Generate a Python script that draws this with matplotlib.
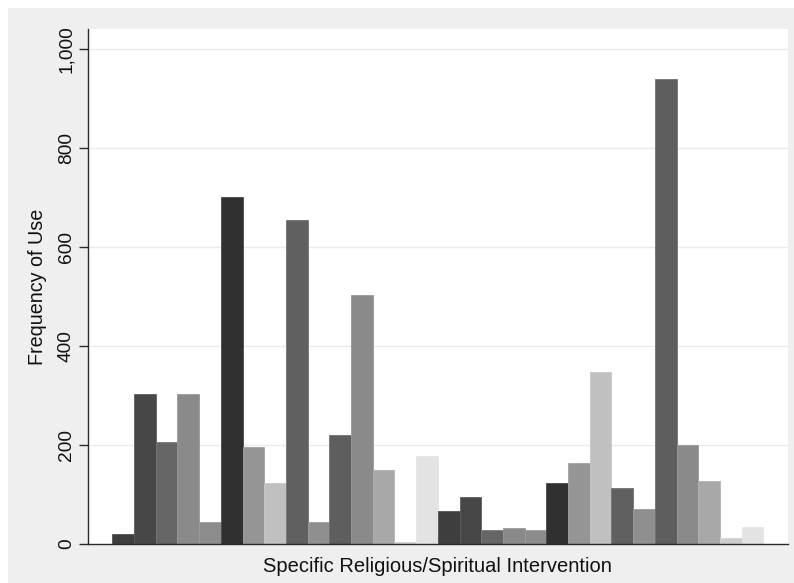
import matplotlib
matplotlib.use("Agg")
import matplotlib.pyplot as plt
from matplotlib.patches import Rectangle
from matplotlib.ticker import FuncFormatter
import matplotlib.colors as mcolors

plt.rcParams['font.family'] = ['Liberation Sans', 'DejaVu Sans']

# Data
values = [20, 303, 205, 303, 44, 700, 195, 123, 654, 44, 220, 502, 150, 5, 178,
          66, 94, 29, 32, 28, 123, 164, 348, 114, 70, 939, 200, 128, 13, 35]
bar_colors = ['#3e3e3e', '#474747', '#666666', '#8a8a8a', '#8c8c8c', '#303030',
              '#959595', '#c0c0c0', '#606060', '#8f8f8f', '#5e5e5e', '#8a8a8a',
              '#a8a8a8', '#cdcdcd', '#e3e3e3']
yticks = [0, 200, 400, 600, 800, 1000]
ylabel = "Frequency of Use"
xlabel = "Specific Religious/Spiritual Intervention"

W, H = 794, 583
fig = plt.figure(figsize=(W / 100, H / 100), dpi=100, facecolor='white')
# gray outer region
fig.patches.append(Rectangle((8 / W, 0), 1 - 8 / W, 1 - 8 / H, transform=fig.transFigure,
                             facecolor='#efefef', edgecolor='none', zorder=-10))

ax = fig.add_axes([87.7 / W, (H - 544) / H, (788 - 87.7) / W, (544 - 29) / H])
ax.set_facecolor('white')

n = len(values)
cols = [bar_colors[i % len(bar_colors)] for i in range(n)]
edges = []
for c in cols:
    r, g, b = mcolors.to_rgb(c)
    edges.append((r + (1 - r) * 0.12, g + (1 - g) * 0.12, b + (1 - b) * 0.12))
ax.bar(range(n), values, width=1.0, color=cols, edgecolor=edges, linewidth=0.6, zorder=3)

ax.set_xlim(-1.635, n - 1 + 1.635)
ax.set_ylim(0, 1040)
ax.set_yticks(yticks)
ax.yaxis.set_major_formatter(FuncFormatter(lambda v, p: f"{int(v):,}"))
ax.set_xticks([])
for t in yticks[1:]:
    ax.axhline(t, color='#eaeaea', linewidth=1.0, zorder=1)

for s in ['top', 'right']:
    ax.spines[s].set_visible(False)
ax.spines['left'].set_color('#2a2a2a')
ax.spines['bottom'].set_color('#2a2a2a')
ax.spines['left'].set_linewidth(1.0)
ax.spines['bottom'].set_linewidth(1.0)
ax.spines['bottom'].set_zorder(4)

ax.tick_params(axis='y', length=6.3, width=1.0, color='#2a2a2a', pad=3, labelsize=13.8,
               labelcolor='#111111')
for lab in ax.get_yticklabels():
    lab.set_rotation(90)
    lab.set_va('center')
    lab.set_ha('right')

ax.set_ylabel(ylabel, fontsize=14.2, color='#111111')
ax.yaxis.set_label_coords(-0.0585, 0.5)
ax.set_xlabel(xlabel, fontsize=14.5, color='#111111', labelpad=9.5)

fig.savefig('out.png', dpi=100, facecolor='white')
